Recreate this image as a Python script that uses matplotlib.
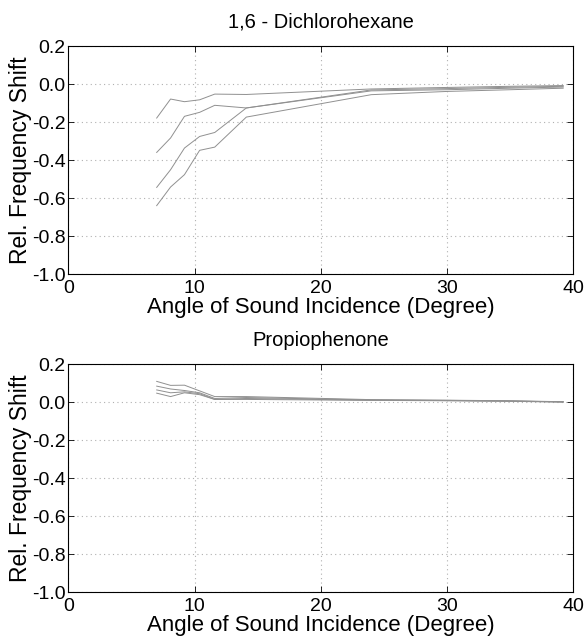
import matplotlib
matplotlib.use('Agg')
import matplotlib.pyplot as plt

plt.rcParams['font.family'] = ['Liberation Sans', 'DejaVu Sans']

# angles of the measured points (degree)
angles = [7.0, 8.1, 9.2, 10.4, 11.6, 14.1, 24.0, 30.0, 35.0, 39.2]

# 1,6 - Dichlorohexane
dichloro = [
    [-0.179, -0.079, -0.093, -0.083, -0.053, -0.055, -0.026, -0.018, -0.012, -0.008],
    [-0.360, -0.284, -0.170, -0.149, -0.112, -0.126, -0.031, -0.024, -0.017, -0.012],
    [-0.544, -0.451, -0.337, -0.276, -0.255, -0.126, -0.036, -0.030, -0.022, -0.016],
    [-0.640, -0.542, -0.477, -0.349, -0.332, -0.174, -0.056, -0.039, -0.030, -0.022],
]

# Propiophenone
propio = [
    [0.110, 0.089, 0.090, 0.060, 0.030, 0.030, 0.014, 0.011, 0.008, 0.003],
    [0.085, 0.070, 0.062, 0.050, 0.020, 0.025, 0.012, 0.010, 0.007, 0.002],
    [0.065, 0.050, 0.055, 0.045, 0.015, 0.020, 0.011, 0.009, 0.006, 0.002],
    [0.048, 0.030, 0.050, 0.040, 0.015, 0.015, 0.010, 0.008, 0.005, 0.001],
]

titles = ['1,6 - Dichlorohexane', 'Propiophenone']
xticks = [0, 10, 20, 30, 40]
yticks = [0.2, 0.0, -0.2, -0.4, -0.6, -0.8, -1.0]

fig = plt.figure(figsize=(5.86, 6.41), dpi=100)
ax1 = fig.add_axes([0.1166, 0.5725, 0.8617, 0.3557])
ax2 = fig.add_axes([0.1166, 0.0760, 0.8617, 0.3557])

for ax, data, title in zip([ax1, ax2], [dichloro, propio], titles):
    for series in data:
        ax.plot(angles, series, color='#909090', linewidth=0.7)
    ax.set_xlim(0, 40)
    ax.set_ylim(-1.0, 0.2)
    ax.set_xticks(xticks)
    ax.set_yticks(yticks)
    ax.set_yticklabels(['%.1f' % v for v in yticks])
    ax.grid(True, linestyle=(0, (1, 3)), color='#b0b0b0', linewidth=0.8)
    ax.tick_params(direction='in', top=True, right=True, labelsize=14,
                   length=4, width=0.6, colors='black')
    ax.tick_params(axis='y', pad=2)
    ax.tick_params(axis='x', pad=4)
    for s in ax.spines.values():
        s.set_linewidth(0.8)
    ax.set_title(title, fontsize=14.5, pad=13)
    ax.set_xlabel('Angle of Sound Incidence (Degree)', fontsize=16, labelpad=0)
    ax.set_ylabel('Rel. Frequency Shift', fontsize=16.5, labelpad=0)

fig.savefig('out.png', dpi=100)
